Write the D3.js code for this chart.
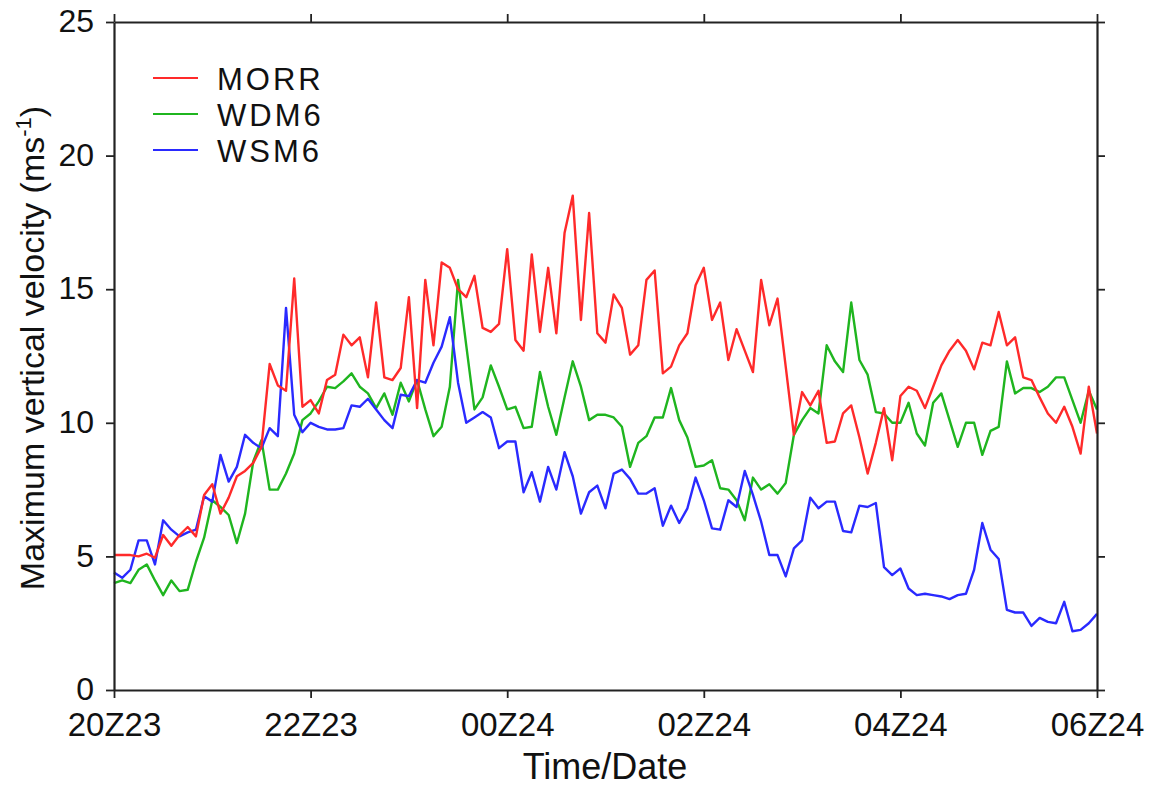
<!DOCTYPE html>
<html>
<head>
<meta charset="utf-8">
<script src="https://cdn.jsdelivr.net/npm/d3@7"></script>
<style>
  html, body { margin: 0; padding: 0; background: #fff; }
  svg { display: block; font-family: "Liberation Sans", Arial, sans-serif; }
</style>
</head>
<body>
<svg id="chart" width="1154" height="786"></svg>
<script>
// 5-minute samples from 20Z23 to 06Z24 (121 points)
const stepMinutes = 5;
const tickLabels = ["20Z23", "22Z23", "00Z24", "02Z24", "04Z24", "06Z24"];
const tickHours = [0, 2, 4, 6, 8, 10];
const yTicks = [0, 5, 10, 15, 20, 25];

const seriesNames = ["MORR", "WDM6", "WSM6"];
const seriesColors = ["#ff2a2a", "#1fb51f", "#2a2aff"];

const morr = [5.05,5.05,5.05,5.0,5.1,4.95,5.8,5.4,5.8,6.1,5.75,7.3,7.7,6.6,7.2,8.0,8.2,8.5,9.1,12.2,
  11.4,11.2,15.4,10.6,10.85,10.35,11.6,11.8,13.3,12.9,13.2,11.7,14.5,11.7,11.6,12.05,14.7,10.55,15.35,12.9,
  16.0,15.8,15.0,14.7,15.5,13.55,13.4,13.7,16.5,13.1,12.7,16.3,13.4,15.8,13.35,17.1,18.5,13.85,17.85,13.35,
  13.0,14.8,14.3,12.55,12.9,15.35,15.7,11.85,12.1,12.9,13.35,15.15,15.8,13.85,14.5,12.35,13.5,12.7,11.9,15.35,
  13.65,14.65,12.1,9.55,11.15,10.65,11.2,9.25,9.3,10.35,10.65,9.45,8.1,9.25,10.55,8.6,11.0,11.35,11.2,10.55,
  11.35,12.15,12.7,13.1,12.7,12.0,13.0,12.9,14.15,12.9,13.2,11.7,11.6,10.95,10.35,10.0,10.6,9.85,8.85,11.35,
  9.6];
const wdm6 = [4.0,4.1,4.0,4.5,4.7,4.1,3.55,4.1,3.7,3.75,4.8,5.7,7.1,6.85,6.55,5.5,6.6,8.55,9.35,7.5,
  7.5,8.1,8.85,10.1,10.35,10.8,11.35,11.3,11.55,11.85,11.35,11.1,10.55,11.1,10.3,11.5,10.8,11.6,10.5,9.5,
  9.85,11.35,15.35,12.9,10.5,10.95,12.15,11.35,10.5,10.6,9.8,9.85,11.9,10.6,9.55,10.95,12.3,11.35,10.1,10.3,
  10.3,10.2,9.85,8.35,9.25,9.5,10.2,10.2,11.3,10.1,9.45,8.35,8.4,8.6,7.55,7.5,7.1,6.35,7.95,7.5,
  7.7,7.35,7.75,9.55,10.1,10.55,10.35,12.9,12.3,11.9,14.5,12.35,11.8,10.4,10.35,10.0,10.0,10.75,9.6,9.15,
  10.75,11.1,10.1,9.1,10.0,10.0,8.8,9.7,9.85,12.3,11.1,11.3,11.3,11.15,11.35,11.7,11.7,10.85,10.0,11.2,
  10.5];
const wsm6 = [4.4,4.2,4.5,5.6,5.6,4.7,6.35,6.0,5.75,5.9,6.0,7.25,7.05,8.8,7.8,8.35,9.55,9.25,9.05,9.8,
  9.5,14.3,10.3,9.65,10.0,9.85,9.75,9.75,9.8,10.65,10.6,10.9,10.5,10.1,9.8,11.05,11.0,11.6,11.5,12.25,
  12.85,13.95,11.5,10.0,10.2,10.4,10.2,9.05,9.3,9.3,7.4,8.15,7.05,8.35,7.5,8.9,8.0,6.6,7.4,7.65,
  6.8,8.1,8.25,7.9,7.35,7.35,7.55,6.15,6.9,6.25,6.8,7.95,7.1,6.05,6.0,7.1,6.85,8.2,7.3,6.3,
  5.05,5.05,4.25,5.3,5.6,7.2,6.8,7.05,7.05,5.95,5.9,6.9,6.85,7.0,4.6,4.3,4.55,3.8,3.55,3.6,
  3.55,3.5,3.4,3.55,3.6,4.5,6.25,5.25,4.9,3.0,2.9,2.9,2.4,2.7,2.55,2.5,3.3,2.2,2.25,2.5,
  2.85];
const seriesValues = [morr, wdm6, wsm6];

(function () {
  const svg = d3.select("#chart");
  const m = { left: 114, right: 1097, top: 22, bottom: 690 };

  const x = d3.scaleLinear().domain([0, 10]).range([m.left, m.right]);
  const y = d3.scaleLinear().domain([0, 25]).range([m.bottom, m.top]);

  const line = d3.line()
    .x((d, i) => x(i * stepMinutes / 60))
    .y(d => y(d));

  [1, 2, 0].forEach(k => {
    svg.append("path")
      .datum(seriesValues[k])
      .attr("fill", "none")
      .attr("stroke", seriesColors[k])
      .attr("stroke-width", 2.4)
      .attr("stroke-linejoin", "round")
      .attr("d", line);
  });

  const tickFmt = (d) => tickLabels[tickHours.indexOf(d)];
  const styleAxis = g => {
    g.select(".domain").attr("stroke", "#222").attr("stroke-width", 2.2);
    g.selectAll(".tick line").attr("stroke", "#222").attr("stroke-width", 1.8);
  };

  const axB = svg.append("g").attr("transform", `translate(0,${m.bottom})`)
    .call(d3.axisBottom(x).tickValues(tickHours).tickFormat(tickFmt).tickSize(8).tickSizeOuter(0).tickPadding(15));
  styleAxis(axB);
  axB.selectAll("text").attr("font-size", 33).attr("fill", "#111")
    .attr("font-family", "Liberation Sans, Arial, sans-serif");

  const axT = svg.append("g").attr("transform", `translate(0,${m.top})`)
    .call(d3.axisTop(x).tickValues(tickHours).tickFormat("").tickSize(8).tickSizeOuter(0));
  styleAxis(axT);

  const axL = svg.append("g").attr("transform", `translate(${m.left},0)`)
    .call(d3.axisLeft(y).tickValues(yTicks).tickSize(8).tickSizeOuter(0).tickPadding(12));
  styleAxis(axL);
  axL.selectAll("text").attr("font-size", 32).attr("dy", "0.3em").attr("fill", "#111")
    .attr("font-family", "Liberation Sans, Arial, sans-serif");

  const axR = svg.append("g").attr("transform", `translate(${m.right},0)`)
    .call(d3.axisRight(y).tickValues(yTicks).tickFormat("").tickSize(8).tickSizeOuter(0));
  styleAxis(axR);

  svg.append("text")
    .attr("x", 605).attr("y", 779)
    .attr("text-anchor", "middle").attr("font-size", 36).attr("fill", "#111")
    .text("Time/Date");

  const yt = svg.append("text")
    .attr("transform", `translate(44,348) rotate(-90)`)
    .attr("text-anchor", "middle").attr("font-size", 34).attr("fill", "#111");
  yt.append("tspan").text("Maximum vertical velocity (ms");
  yt.append("tspan").attr("dy", -13).attr("font-size", 22).text("-1");
  yt.append("tspan").attr("dy", 13).text(")");

  seriesNames.forEach((name, k) => {
    const ly = 78 + k * 36;
    svg.append("line").attr("x1", 153).attr("x2", 198).attr("y1", ly).attr("y2", ly)
      .attr("stroke", seriesColors[k]).attr("stroke-width", 2);
    svg.append("text").attr("x", 217).attr("y", ly + 12).attr("font-size", 31)
      .attr("letter-spacing", 3).attr("fill", "#111")
      .text(name);
  });
})();
</script>
</body>
</html>
